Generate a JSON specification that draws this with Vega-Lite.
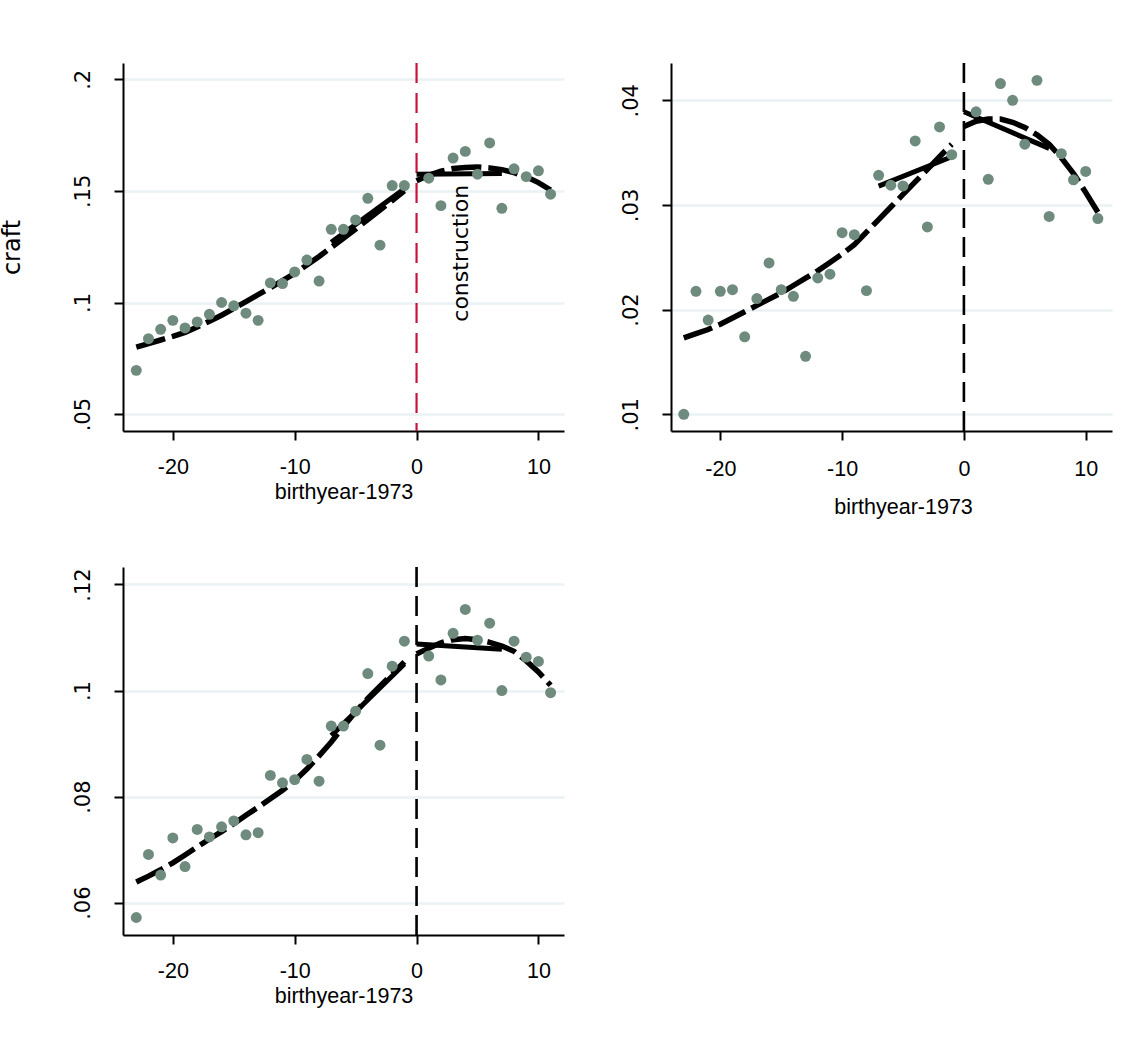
{
  "$schema": "https://vega.github.io/schema/vega-lite/v6.json",
  "padding": {"left": 0, "top": 61, "right": 5, "bottom": 5},
  "background": "white",
  "config": {
    "view": {"stroke": null},
    "axis": {"domainColor": "black", "domainWidth": 2, "tickColor": "black", "tickWidth": 2, "tickSize": 9, "gridColor": "#EAF2F3", "gridWidth": 2.5, "labelColor": "black", "titleColor": "black", "titleFontWeight": "normal"},
    "axisX": {"labelFont": "Liberation Sans", "labelFontSize": 21.5, "titleFont": "Liberation Sans", "titleFontSize": 21.5},
    "axisY": {"labelFont": "DejaVu Sans", "labelFontSize": 21, "titleFont": "DejaVu Sans", "titleFontSize": 24}
  },
  "datasets": {
    "p1": [
      {"x": -23, "y": 0.0696, "s": "pt"}, {"x": -22, "y": 0.0838, "s": "pt"}, {"x": -21, "y": 0.0880, "s": "pt"}, {"x": -20, "y": 0.0920, "s": "pt"}, {"x": -19, "y": 0.0886, "s": "pt"}, {"x": -18, "y": 0.0913, "s": "pt"}, {"x": -17, "y": 0.0947, "s": "pt"}, {"x": -16, "y": 0.1000, "s": "pt"}, {"x": -15, "y": 0.0985, "s": "pt"}, {"x": -14, "y": 0.0952, "s": "pt"}, {"x": -13, "y": 0.0920, "s": "pt"}, {"x": -12, "y": 0.1088, "s": "pt"}, {"x": -11, "y": 0.1085, "s": "pt"}, {"x": -10, "y": 0.1137, "s": "pt"}, {"x": -9, "y": 0.1190, "s": "pt"}, {"x": -8, "y": 0.1096, "s": "pt"}, {"x": -7, "y": 0.1328, "s": "pt"}, {"x": -6, "y": 0.1328, "s": "pt"}, {"x": -5, "y": 0.1370, "s": "pt"}, {"x": -4, "y": 0.1467, "s": "pt"}, {"x": -3, "y": 0.1257, "s": "pt"}, {"x": -2, "y": 0.1524, "s": "pt"}, {"x": -1, "y": 0.1524, "s": "pt"},
      {"x": 1, "y": 0.1557, "s": "pt"}, {"x": 2, "y": 0.1434, "s": "pt"}, {"x": 3, "y": 0.1647, "s": "pt"}, {"x": 4, "y": 0.1677, "s": "pt"}, {"x": 5, "y": 0.1575, "s": "pt"}, {"x": 6, "y": 0.1715, "s": "pt"}, {"x": 7, "y": 0.1422, "s": "pt"}, {"x": 8, "y": 0.1599, "s": "pt"}, {"x": 9, "y": 0.1564, "s": "pt"}, {"x": 10, "y": 0.1590, "s": "pt"}, {"x": 11, "y": 0.1485, "s": "pt"},
      {"x": -23, "y": 0.0800, "s": "fitL"}, {"x": -22, "y": 0.0816, "s": "fitL"}, {"x": -21, "y": 0.0832, "s": "fitL"}, {"x": -20, "y": 0.0848, "s": "fitL"}, {"x": -19, "y": 0.0866, "s": "fitL"}, {"x": -18, "y": 0.0890, "s": "fitL"}, {"x": -17, "y": 0.0916, "s": "fitL"}, {"x": -16, "y": 0.0943, "s": "fitL"}, {"x": -15, "y": 0.0973, "s": "fitL"}, {"x": -14, "y": 0.1004, "s": "fitL"}, {"x": -13, "y": 0.1035, "s": "fitL"}, {"x": -12, "y": 0.1066, "s": "fitL"}, {"x": -11, "y": 0.1098, "s": "fitL"}, {"x": -10, "y": 0.1130, "s": "fitL"}, {"x": -9, "y": 0.1168, "s": "fitL"}, {"x": -8, "y": 0.1206, "s": "fitL"}, {"x": -7, "y": 0.1247, "s": "fitL"}, {"x": -6, "y": 0.1288, "s": "fitL"}, {"x": -5, "y": 0.1329, "s": "fitL"}, {"x": -4, "y": 0.1372, "s": "fitL"}, {"x": -3, "y": 0.1414, "s": "fitL"}, {"x": -2, "y": 0.1457, "s": "fitL"}, {"x": -1, "y": 0.1500, "s": "fitL"},
      {"x": -7, "y": 0.1270, "s": "linL"}, {"x": -1, "y": 0.1510, "s": "linL"},
      {"x": 0, "y": 0.1575, "s": "linR"}, {"x": 7, "y": 0.1578, "s": "linR"},
      {"x": 0, "y": 0.1545, "s": "fitR"}, {"x": 1, "y": 0.1570, "s": "fitR"}, {"x": 2, "y": 0.1588, "s": "fitR"}, {"x": 3, "y": 0.1600, "s": "fitR"}, {"x": 4, "y": 0.1605, "s": "fitR"}, {"x": 5, "y": 0.1607, "s": "fitR"}, {"x": 6, "y": 0.1603, "s": "fitR"}, {"x": 7, "y": 0.1595, "s": "fitR"}, {"x": 8, "y": 0.1582, "s": "fitR"}, {"x": 9, "y": 0.1563, "s": "fitR"}, {"x": 10, "y": 0.1537, "s": "fitR"}, {"x": 11, "y": 0.1504, "s": "fitR"}
    ],
    "p2": [
      {"x": -23, "y": 0.0100, "s": "pt"}, {"x": -22, "y": 0.02175, "s": "pt"}, {"x": -21, "y": 0.0190, "s": "pt"}, {"x": -20, "y": 0.02175, "s": "pt"}, {"x": -19, "y": 0.0219, "s": "pt"}, {"x": -18, "y": 0.0174, "s": "pt"}, {"x": -17, "y": 0.02105, "s": "pt"}, {"x": -16, "y": 0.02446, "s": "pt"}, {"x": -15, "y": 0.0219, "s": "pt"}, {"x": -14, "y": 0.02127, "s": "pt"}, {"x": -13, "y": 0.01554, "s": "pt"}, {"x": -12, "y": 0.02302, "s": "pt"}, {"x": -11, "y": 0.02338, "s": "pt"}, {"x": -10, "y": 0.02735, "s": "pt"}, {"x": -9, "y": 0.02716, "s": "pt"}, {"x": -8, "y": 0.02181, "s": "pt"}, {"x": -7, "y": 0.03283, "s": "pt"}, {"x": -6, "y": 0.03188, "s": "pt"}, {"x": -5, "y": 0.03181, "s": "pt"}, {"x": -4, "y": 0.03611, "s": "pt"}, {"x": -3, "y": 0.0279, "s": "pt"}, {"x": -2, "y": 0.03745, "s": "pt"}, {"x": -1, "y": 0.0348, "s": "pt"},
      {"x": 1, "y": 0.0389, "s": "pt"}, {"x": 2, "y": 0.03245, "s": "pt"}, {"x": 3, "y": 0.0416, "s": "pt"}, {"x": 4, "y": 0.0400, "s": "pt"}, {"x": 5, "y": 0.0358, "s": "pt"}, {"x": 6, "y": 0.0419, "s": "pt"}, {"x": 7, "y": 0.0289, "s": "pt"}, {"x": 8, "y": 0.0349, "s": "pt"}, {"x": 9, "y": 0.0324, "s": "pt"}, {"x": 10, "y": 0.0332, "s": "pt"}, {"x": 11, "y": 0.0287, "s": "pt"},
      {"x": -23, "y": 0.0173, "s": "fitL"}, {"x": -22, "y": 0.0177, "s": "fitL"}, {"x": -21, "y": 0.0181, "s": "fitL"}, {"x": -20, "y": 0.0186, "s": "fitL"}, {"x": -19, "y": 0.0192, "s": "fitL"}, {"x": -18, "y": 0.0198, "s": "fitL"}, {"x": -17, "y": 0.0204, "s": "fitL"}, {"x": -16, "y": 0.0210, "s": "fitL"}, {"x": -15, "y": 0.0216, "s": "fitL"}, {"x": -14, "y": 0.0223, "s": "fitL"}, {"x": -13, "y": 0.0230, "s": "fitL"}, {"x": -12, "y": 0.0237, "s": "fitL"}, {"x": -11, "y": 0.0245, "s": "fitL"}, {"x": -10, "y": 0.0253, "s": "fitL"}, {"x": -9, "y": 0.0262, "s": "fitL"}, {"x": -8, "y": 0.0274, "s": "fitL"}, {"x": -7, "y": 0.0286, "s": "fitL"}, {"x": -6, "y": 0.0298, "s": "fitL"}, {"x": -5, "y": 0.0310, "s": "fitL"}, {"x": -4, "y": 0.0322, "s": "fitL"}, {"x": -3, "y": 0.0334, "s": "fitL"}, {"x": -2, "y": 0.0346, "s": "fitL"}, {"x": -1, "y": 0.0358, "s": "fitL"},
      {"x": -7, "y": 0.0318, "s": "linL"}, {"x": -1, "y": 0.0346, "s": "linL"},
      {"x": 0, "y": 0.0389, "s": "linR"}, {"x": 7, "y": 0.0354, "s": "linR"},
      {"x": 0, "y": 0.0375, "s": "fitR"}, {"x": 1, "y": 0.0380, "s": "fitR"}, {"x": 2, "y": 0.0382, "s": "fitR"}, {"x": 3, "y": 0.0382, "s": "fitR"}, {"x": 4, "y": 0.0379, "s": "fitR"}, {"x": 5, "y": 0.0374, "s": "fitR"}, {"x": 6, "y": 0.0367, "s": "fitR"}, {"x": 7, "y": 0.0358, "s": "fitR"}, {"x": 8, "y": 0.0345, "s": "fitR"}, {"x": 9, "y": 0.0330, "s": "fitR"}, {"x": 10, "y": 0.0312, "s": "fitR"}, {"x": 11, "y": 0.0293, "s": "fitR"}
    ],
    "p3": [
      {"x": -23, "y": 0.0572, "s": "pt"}, {"x": -22, "y": 0.0691, "s": "pt"}, {"x": -21, "y": 0.0652, "s": "pt"}, {"x": -20, "y": 0.0722, "s": "pt"}, {"x": -19, "y": 0.0668, "s": "pt"}, {"x": -18, "y": 0.0738, "s": "pt"}, {"x": -17, "y": 0.0724, "s": "pt"}, {"x": -16, "y": 0.0743, "s": "pt"}, {"x": -15, "y": 0.0754, "s": "pt"}, {"x": -14, "y": 0.0728, "s": "pt"}, {"x": -13, "y": 0.0732, "s": "pt"}, {"x": -12, "y": 0.0840, "s": "pt"}, {"x": -11, "y": 0.0826, "s": "pt"}, {"x": -10, "y": 0.0832, "s": "pt"}, {"x": -9, "y": 0.0870, "s": "pt"}, {"x": -8, "y": 0.0829, "s": "pt"}, {"x": -7, "y": 0.0933, "s": "pt"}, {"x": -6, "y": 0.0933, "s": "pt"}, {"x": -5, "y": 0.0961, "s": "pt"}, {"x": -4, "y": 0.1032, "s": "pt"}, {"x": -3, "y": 0.0897, "s": "pt"}, {"x": -2, "y": 0.1046, "s": "pt"}, {"x": -1, "y": 0.1093, "s": "pt"},
      {"x": 1, "y": 0.1065, "s": "pt"}, {"x": 2, "y": 0.1020, "s": "pt"}, {"x": 3, "y": 0.1108, "s": "pt"}, {"x": 4, "y": 0.1153, "s": "pt"}, {"x": 5, "y": 0.1095, "s": "pt"}, {"x": 6, "y": 0.1127, "s": "pt"}, {"x": 7, "y": 0.1000, "s": "pt"}, {"x": 8, "y": 0.1093, "s": "pt"}, {"x": 9, "y": 0.1063, "s": "pt"}, {"x": 10, "y": 0.1055, "s": "pt"}, {"x": 11, "y": 0.0996, "s": "pt"},
      {"x": -23, "y": 0.0639, "s": "fitL"}, {"x": -22, "y": 0.0650, "s": "fitL"}, {"x": -21, "y": 0.0662, "s": "fitL"}, {"x": -20, "y": 0.0675, "s": "fitL"}, {"x": -19, "y": 0.0690, "s": "fitL"}, {"x": -18, "y": 0.0705, "s": "fitL"}, {"x": -17, "y": 0.0720, "s": "fitL"}, {"x": -16, "y": 0.0734, "s": "fitL"}, {"x": -15, "y": 0.0749, "s": "fitL"}, {"x": -14, "y": 0.0765, "s": "fitL"}, {"x": -13, "y": 0.0780, "s": "fitL"}, {"x": -12, "y": 0.0796, "s": "fitL"}, {"x": -11, "y": 0.0812, "s": "fitL"}, {"x": -10, "y": 0.0830, "s": "fitL"}, {"x": -9, "y": 0.0852, "s": "fitL"}, {"x": -8, "y": 0.0877, "s": "fitL"}, {"x": -7, "y": 0.0903, "s": "fitL"}, {"x": -6, "y": 0.0932, "s": "fitL"}, {"x": -5, "y": 0.0960, "s": "fitL"}, {"x": -4, "y": 0.0985, "s": "fitL"}, {"x": -3, "y": 0.1008, "s": "fitL"}, {"x": -2, "y": 0.1031, "s": "fitL"}, {"x": -1, "y": 0.1054, "s": "fitL"},
      {"x": -7, "y": 0.0915, "s": "linL"}, {"x": -1, "y": 0.1050, "s": "linL"},
      {"x": 0, "y": 0.1088, "s": "linR"}, {"x": 7, "y": 0.1078, "s": "linR"},
      {"x": 0, "y": 0.1069, "s": "fitR"}, {"x": 1, "y": 0.1080, "s": "fitR"}, {"x": 2, "y": 0.1090, "s": "fitR"}, {"x": 3, "y": 0.1096, "s": "fitR"}, {"x": 4, "y": 0.1098, "s": "fitR"}, {"x": 5, "y": 0.1096, "s": "fitR"}, {"x": 6, "y": 0.1091, "s": "fitR"}, {"x": 7, "y": 0.1084, "s": "fitR"}, {"x": 8, "y": 0.1074, "s": "fitR"}, {"x": 9, "y": 0.1056, "s": "fitR"}, {"x": 10, "y": 0.1035, "s": "fitR"}, {"x": 11, "y": 0.1010, "s": "fitR"}
    ]
  },
  "columns": 2,
  "bounds": "flush",
  "spacing": {"row": 136, "column": 107},
  "concat": [
    {
      "width": 441, "height": 368,
      "data": {"name": "p1"},
      "layer": [
        {
          "data": {"values": [{"cut": 0}]},
          "mark": {"type": "rule", "color": "#C8143C", "strokeWidth": 2.2, "strokeDash": [20, 10]},
          "encoding": {
            "x": {"field": "cut", "type": "quantitative", "scale": {"domain": [-24.09, 12.1], "nice": false, "zero": false}, "title": "birthyear-1973"}
          }
        },
        {
          "transform": [{"filter": "datum.s == 'fitL' || datum.s == 'fitR'"}],
          "mark": {"type": "line", "color": "black", "strokeWidth": 5.5, "strokeDash": [30, 7]},
          "encoding": {
            "x": {"field": "x", "type": "quantitative", "scale": {"domain": [-24.09, 12.1], "nice": false, "zero": false}, "title": "birthyear-1973"},
            "y": {"field": "y", "type": "quantitative", "scale": {"domain": [0.04243, 0.2073], "nice": false, "zero": false}, "title": "craft"},
            "detail": {"field": "s"}
          }
        },
        {
          "transform": [{"filter": "datum.s == 'linL' || datum.s == 'linR'"}],
          "mark": {"type": "line", "color": "black", "strokeWidth": 5},
          "encoding": {
            "x": {"field": "x", "type": "quantitative", "scale": {"domain": [-24.09, 12.1], "nice": false, "zero": false}, "title": "birthyear-1973"},
            "y": {"field": "y", "type": "quantitative", "scale": {"domain": [0.04243, 0.2073], "nice": false, "zero": false}, "title": "craft"},
            "detail": {"field": "s"}
          }
        },
        {
          "transform": [{"filter": "datum.s == 'pt'"}],
          "mark": {"type": "circle", "color": "#6E8B7E", "opacity": 1, "size": 120},
          "encoding": {
            "x": {"field": "x", "type": "quantitative", "scale": {"domain": [-24.09, 12.1], "nice": false, "zero": false}, "title": "birthyear-1973",
              "axis": {"values": [-20, -10, 0, 10], "labelExpr": "'' + datum.value", "grid": false, "labelBaseline": "alphabetic", "labelPadding": 33.7, "titleBaseline": "alphabetic", "titleX": 220.5, "titleY": 67.7, "titleAlign": "center"}},
            "y": {"field": "y", "type": "quantitative", "scale": {"domain": [0.04243, 0.2073], "nice": false, "zero": false}, "title": "craft",
              "axis": {"values": [0.05, 0.1, 0.15, 0.2], "labelExpr": "replace(format(datum.value, '.2~f'), '0.', '.')", "grid": true, "labelAngle": 270, "labelAlign": "center", "labelBaseline": "alphabetic", "labelPadding": 25, "titleX": -104, "titleY": 184, "titleAngle": 270, "titleAlign": "center", "titleBaseline": "alphabetic"}}
          }
        },
        {
          "data": {"values": [{"label": "construction"}]},
          "mark": {"type": "text", "angle": 270, "align": "left", "baseline": "middle", "font": "DejaVu Sans", "fontSize": 22, "color": "black"},
          "encoding": {
            "x": {"datum": 3.64, "type": "quantitative", "scale": {"domain": [-24.09, 12.1], "nice": false, "zero": false}, "title": "birthyear-1973"},
            "y": {"datum": 0.0914, "type": "quantitative", "scale": {"domain": [0.04243, 0.2073], "nice": false, "zero": false}, "title": "craft"},
            "text": {"field": "label"}
          }
        }
      ]
    },
    {
      "width": 441, "height": 368,
      "data": {"name": "p2"},
      "layer": [
        {
          "data": {"values": [{"cut": 0}]},
          "mark": {"type": "rule", "color": "black", "strokeWidth": 2.6, "strokeDash": [20, 9]},
          "encoding": {
            "x": {"field": "cut", "type": "quantitative", "scale": {"domain": [-24.05, 12.16], "nice": false, "zero": false}, "title": "birthyear-1973"}
          }
        },
        {
          "transform": [{"filter": "datum.s == 'fitL' || datum.s == 'fitR'"}],
          "mark": {"type": "line", "color": "black", "strokeWidth": 5.5, "strokeDash": [30, 7]},
          "encoding": {
            "x": {"field": "x", "type": "quantitative", "scale": {"domain": [-24.05, 12.16], "nice": false, "zero": false}, "title": "birthyear-1973"},
            "y": {"field": "y", "type": "quantitative", "scale": {"domain": [0.0084, 0.04356], "nice": false, "zero": false}, "title": null},
            "detail": {"field": "s"}
          }
        },
        {
          "transform": [{"filter": "datum.s == 'linL' || datum.s == 'linR'"}],
          "mark": {"type": "line", "color": "black", "strokeWidth": 5},
          "encoding": {
            "x": {"field": "x", "type": "quantitative", "scale": {"domain": [-24.05, 12.16], "nice": false, "zero": false}, "title": "birthyear-1973"},
            "y": {"field": "y", "type": "quantitative", "scale": {"domain": [0.0084, 0.04356], "nice": false, "zero": false}, "title": null},
            "detail": {"field": "s"}
          }
        },
        {
          "transform": [{"filter": "datum.s == 'pt'"}],
          "mark": {"type": "circle", "color": "#6E8B7E", "opacity": 1, "size": 120},
          "encoding": {
            "x": {"field": "x", "type": "quantitative", "scale": {"domain": [-24.05, 12.16], "nice": false, "zero": false}, "title": "birthyear-1973",
              "axis": {"values": [-20, -10, 0, 10], "labelExpr": "'' + datum.value", "grid": false, "labelBaseline": "alphabetic", "labelPadding": 35, "titleBaseline": "alphabetic", "titleX": 232, "titleY": 82, "titleAlign": "center"}},
            "y": {"field": "y", "type": "quantitative", "scale": {"domain": [0.0084, 0.04356], "nice": false, "zero": false}, "title": null,
              "axis": {"values": [0.01, 0.02, 0.03, 0.04], "labelExpr": "replace(format(datum.value, '.2~f'), '0.', '.')", "grid": true, "labelAngle": 270, "labelAlign": "center", "labelBaseline": "alphabetic", "labelPadding": 25}}
          }
        }
      ]
    },
    {
      "width": 441, "height": 368,
      "data": {"name": "p3"},
      "layer": [
        {
          "data": {"values": [{"cut": 0}]},
          "mark": {"type": "rule", "color": "black", "strokeWidth": 2.6, "strokeDash": [20, 9]},
          "encoding": {
            "x": {"field": "cut", "type": "quantitative", "scale": {"domain": [-24.09, 12.1], "nice": false, "zero": false}, "title": "birthyear-1973"}
          }
        },
        {
          "transform": [{"filter": "datum.s == 'fitL' || datum.s == 'fitR'"}],
          "mark": {"type": "line", "color": "black", "strokeWidth": 5.5, "strokeDash": [30, 7]},
          "encoding": {
            "x": {"field": "x", "type": "quantitative", "scale": {"domain": [-24.09, 12.1], "nice": false, "zero": false}, "title": "birthyear-1973"},
            "y": {"field": "y", "type": "quantitative", "scale": {"domain": [0.0539, 0.1233], "nice": false, "zero": false}, "title": null},
            "detail": {"field": "s"}
          }
        },
        {
          "transform": [{"filter": "datum.s == 'linL' || datum.s == 'linR'"}],
          "mark": {"type": "line", "color": "black", "strokeWidth": 5},
          "encoding": {
            "x": {"field": "x", "type": "quantitative", "scale": {"domain": [-24.09, 12.1], "nice": false, "zero": false}, "title": "birthyear-1973"},
            "y": {"field": "y", "type": "quantitative", "scale": {"domain": [0.0539, 0.1233], "nice": false, "zero": false}, "title": null},
            "detail": {"field": "s"}
          }
        },
        {
          "transform": [{"filter": "datum.s == 'pt'"}],
          "mark": {"type": "circle", "color": "#6E8B7E", "opacity": 1, "size": 120},
          "encoding": {
            "x": {"field": "x", "type": "quantitative", "scale": {"domain": [-24.09, 12.1], "nice": false, "zero": false}, "title": "birthyear-1973",
              "axis": {"values": [-20, -10, 0, 10], "labelExpr": "'' + datum.value", "grid": false, "labelBaseline": "alphabetic", "labelPadding": 33.7, "titleBaseline": "alphabetic", "titleX": 220.5, "titleY": 67.7, "titleAlign": "center"}},
            "y": {"field": "y", "type": "quantitative", "scale": {"domain": [0.0539, 0.1233], "nice": false, "zero": false}, "title": null,
              "axis": {"values": [0.06, 0.08, 0.1, 0.12], "labelExpr": "replace(format(datum.value, '.2~f'), '0.', '.')", "grid": true, "labelAngle": 270, "labelAlign": "center", "labelBaseline": "alphabetic", "labelPadding": 25}}
          }
        }
      ]
    }
  ]
}
